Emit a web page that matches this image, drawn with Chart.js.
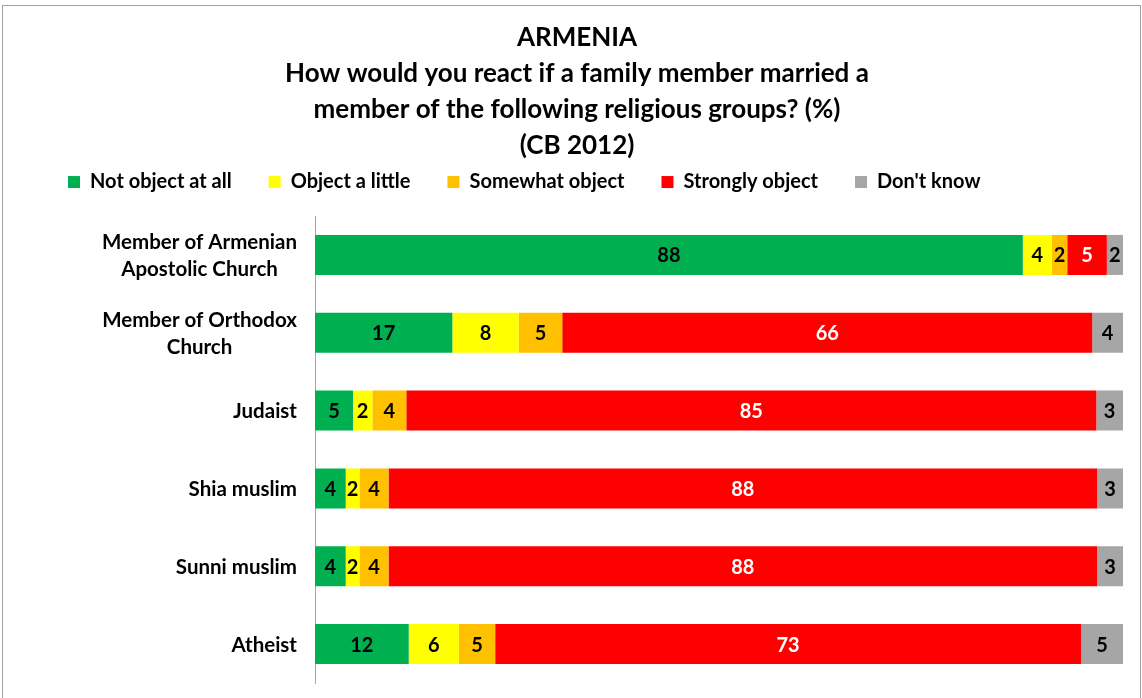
<!DOCTYPE html>
<html>
<head>
<meta charset="utf-8">
<script src="https://cdn.jsdelivr.net/npm/chart.js@4/dist/chart.umd.min.js"></script>
<style>
  body { margin: 0; background: #fff; }
  #frame { position: absolute; left: 2px; top: 5px; width: 1137px; height: 720px; border: 1px solid #a0a0a0; }
  #chart { position: absolute; left: 0; top: 0; }
</style>
</head>
<body>
<div id="frame"></div>
<canvas id="chart" width="1142" height="698"></canvas>
<script>
"use strict";

// Categories (rows, top to bottom)
const categories = [
    ['Member of Armenian', 'Apostolic Church'],
    ['Member of Orthodox', 'Church'],
    'Judaist',
    'Shia muslim',
    'Sunni muslim',
    'Atheist'
];

// Series values (%)
const notObjectAtAll = [87.6, 17.0, 4.7, 3.8, 3.8, 11.6];
const objectALittle = [3.6, 8.2, 2.4, 1.7, 1.7, 6.2];
const somewhatObject = [1.9, 5.4, 4.2, 3.6, 3.6, 4.5];
const stronglyObject = [4.9, 65.6, 85.4, 87.7, 87.7, 72.5];
const dontKnow = [2.0, 3.8, 3.3, 3.2, 3.2, 5.2];

const seriesNames = ['Not object at all', 'Object a little', 'Somewhat object', 'Strongly object', "Don't know"];
const seriesColors = ['#00B050', '#FFFF00', '#FFC000', '#FF0000', '#A6A6A6'];
const labelColors = ['#000', '#000', '#000', '#fff', '#000'];

const titleLines = [
    'ARMENIA',
    'How would you react if a family member married a',
    'member of the following religious groups? (%)',
    '(CB 2012)'
];

const FONT = 'Lato';

// Value labels in the middle of each bar piece
const barLabels = {
    id: 'barLabels',
    afterDatasetsDraw(chart) {
        const ctx = chart.ctx;
        ctx.save();
        ctx.font = 'bold 20px ' + FONT;
        ctx.textAlign = 'center';
        ctx.textBaseline = 'middle';
        chart.data.datasets.forEach((ds, i) => {
            const meta = chart.getDatasetMeta(i);
            meta.data.forEach((bar, j) => {
                const p = bar.getCenterPoint();
                ctx.fillStyle = labelColors[i];
                ctx.fillText(Math.round(ds.data[j]), p.x, p.y + 1);
            });
        });
        ctx.restore();
    }
};

// Category labels: right edge next to the axis, lines centred on each other
const categoryLabels = {
    id: 'categoryLabels',
    afterDraw(chart) {
        const ctx = chart.ctx;
        const yScale = chart.scales.y;
        const right = chart.chartArea.left - 18;
        ctx.save();
        ctx.font = 'bold 20.5px ' + FONT;
        ctx.fillStyle = '#000';
        ctx.textAlign = 'center';
        ctx.textBaseline = 'middle';
        categories.forEach((lab, i) => {
            const lines = Array.isArray(lab) ? lab : [lab];
            const widest = Math.max(...lines.map(l => ctx.measureText(l).width));
            const cx = right - widest / 2;
            const cy = yScale.getPixelForValue(i);
            const lh = 27.5;
            lines.forEach((l, k) => {
                ctx.fillText(l, cx, cy + 1 + (k - (lines.length - 1) / 2) * lh);
            });
        });
        ctx.restore();
    }
};

const data = {
    labels: categories,
    datasets: [notObjectAtAll, objectALittle, somewhatObject, stronglyObject, dontKnow].map((vals, i) => ({
        label: seriesNames[i],
        data: vals,
        backgroundColor: seriesColors[i],
        borderWidth: 0,
        categoryPercentage: 1,
        barPercentage: 0.514
    }))
};

new Chart(document.getElementById('chart'), {
    type: 'bar',
    data: data,
    plugins: [barLabels, categoryLabels],
    options: {
        responsive: false,
        animation: false,
        indexAxis: 'y',
        layout: { padding: { left: 31, right: 19, top: 0, bottom: 15 } },
        plugins: {
            title: {
                display: true,
                text: titleLines,
                color: '#000',
                font: { family: FONT, size: 26, weight: 'bold', lineHeight: 1.385 },
                padding: { top: 20, bottom: -29 }
            },
            legend: {
                display: true,
                position: 'top',
                align: 'start',
                labels: {
                    color: '#000',
                    font: { family: FONT, size: 20, weight: 'bold' },
                    boxWidth: 12,
                    boxHeight: 12,
                    padding: 37
                }
            },
            tooltip: { enabled: false }
        },
        scales: {
            x: {
                stacked: true,
                position: 'top',
                min: 0,
                max: 100,
                ticks: { display: false },
                grid: { display: false },
                border: { display: false },
                afterFit(s) { s.height = 14; }
            },
            y: {
                stacked: true,
                ticks: { display: false },
                grid: { display: false, drawTicks: false },
                border: { display: true, color: '#A6A6A6', width: 1 },
                afterFit(s) { s.width = 284; }
            }
        }
    }
});
</script>
</body>
</html>
